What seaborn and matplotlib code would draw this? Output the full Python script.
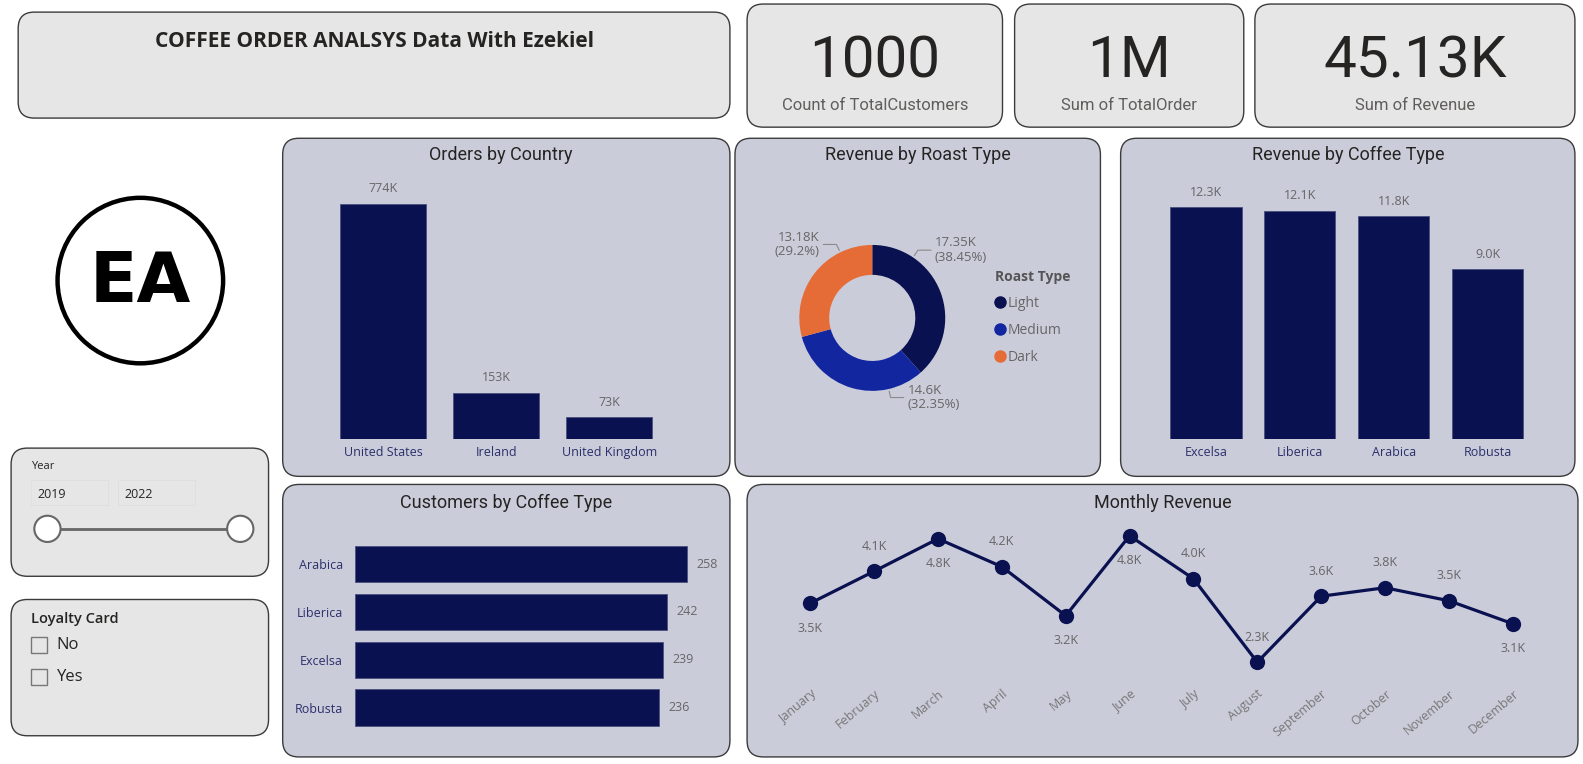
import matplotlib
matplotlib.use('Agg')
import matplotlib.pyplot as plt
from matplotlib.patches import FancyBboxPatch, Circle, Rectangle
from matplotlib.lines import Line2D
from matplotlib import font_manager
import seaborn as sns
import pandas as pd
import numpy as np

# ---- data ----
countries = ['United States', 'Ireland', 'United Kingdom']
orders_k = [774, 153, 73]

roast_types = ['Light', 'Medium', 'Dark']
roast_revenue_k = [17.35, 14.60, 13.18]
roast_share = [38.45, 32.35, 29.2]

coffee_types = ['Excelsa', 'Liberica', 'Arabica', 'Robusta']
coffee_revenue_k = [12.3, 12.1, 11.8, 9.0]

customer_types = ['Arabica', 'Liberica', 'Excelsa', 'Robusta']
customers = [258, 242, 239, 236]

months = ['January', 'February', 'March', 'April', 'May', 'June', 'July',
          'August', 'September', 'October', 'November', 'December']
monthly_revenue_k = [3.48, 4.12, 4.77, 4.21, 3.23, 4.83, 3.97, 2.30, 3.62, 3.79, 3.53, 3.07]

kpi_values = ['1000', '1M', '45.13K']
kpi_labels = ['Count of TotalCustomers', 'Sum of TotalOrder', 'Sum of Revenue']
years = ['2019', '2022']
loyalty_options = ['No', 'Yes']

# ---- style ----
NAVY = '#0A1150'
MEDIUM = '#1226A0'
DARK = '#E66C37'
PANEL = '#CBCCDA'
CARD = '#E6E6E6'
TITLE_C = '#252423'
LABEL_C = '#666666'
CAT_C = '#2B2F6A'

sns.set_theme(style='white')
fonts = {f.name for f in font_manager.fontManager.ttflist}
NARROW = 'Liberation Sans Narrow' if 'Liberation Sans Narrow' in fonts else 'Roboto'
plt.rcParams['font.family'] = ['Open Sans', 'DejaVu Sans']

W, H = 1568, 757
fig = plt.figure(figsize=(15.83, 7.64), dpi=100)
fig.patch.set_facecolor('white')

page = fig.add_axes([0, 0, 1, 1])
page.set_xlim(0, W)
page.set_ylim(H, 0)
page.axis('off')


def card(x0, y0, x1, y1, face):
    page.add_patch(FancyBboxPatch((x0, y0), x1 - x0, y1 - y0,
                                  boxstyle='round,pad=0,rounding_size=16',
                                  fc=face, ec='#3b3b3b', lw=1.0))


def panel_axes(x0, y0, x1, y1):
    ax = fig.add_axes([x0 / W, 1 - y1 / H, (x1 - x0) / W, (y1 - y0) / H])
    ax.patch.set_alpha(0)
    return ax


def panel_title(text, cx, cy):
    page.text(cx, cy, text, ha='center', va='center', fontsize=13,
              color=TITLE_C, family='Roboto')


def clean(ax):
    for s in ax.spines.values():
        s.set_visible(False)
    ax.set_xlabel('')
    ax.set_ylabel('')
    ax.tick_params(length=0)


# ---- cards and panels ----
card(18, 12, 723, 117, CARD)
kpi_boxes = [(740, 4, 993, 126), (1005, 4, 1232, 126), (1243, 4, 1560, 126)]
for b in kpi_boxes:
    card(*b, CARD)
card(280, 137, 723, 472, PANEL)
card(728, 137, 1090, 472, PANEL)
card(1110, 137, 1560, 472, PANEL)
card(280, 480, 723, 750, PANEL)
card(740, 480, 1563, 750, PANEL)
card(11, 444, 266, 571, CARD)
card(11, 594, 266, 729, CARD)

page.text(371, 41, 'COFFEE ORDER ANALSYS Data With Ezekiel', ha='center', va='center',
          fontsize=15, fontweight='bold', color=TITLE_C)

for (x0, y0, x1, y1), val, lab in zip(kpi_boxes, kpi_values, kpi_labels):
    cx = (x0 + x1) / 2
    page.text(cx, 61, val, ha='center', va='center', fontsize=42, color=TITLE_C, family=NARROW)
    page.text(cx, 105, lab, ha='center', va='center', fontsize=12, color='#605E5C',
              family='Roboto')

# logo
page.add_patch(Circle((139, 278), 82, fc='white', ec='black', lw=3.2))
page.text(139, 280, 'EA', ha='center', va='center', fontsize=50, fontweight='heavy',
          color='black', family='DejaVu Sans')

# year slicer
page.text(31, 462, 'Year', ha='left', va='center', fontsize=8, color=TITLE_C)
for i, yr in enumerate(years):
    bx = 31 + i * 86
    page.add_patch(Rectangle((bx, 476), 76, 24, fc='none', ec='#dedede', lw=0.6))
    page.text(bx + 6, 490, yr, ha='left', va='center', fontsize=9, color=TITLE_C)
page.plot([47, 238], [524, 524], color='#666666', lw=2, solid_capstyle='butt', zorder=3)
for hx in (47, 238):
    page.add_patch(Circle((hx, 524), 13, fc='white', ec='#666666', lw=1.5, zorder=4))

# loyalty slicer
page.text(31, 613, 'Loyalty Card', ha='left', va='center', fontsize=10.5, color=TITLE_C,
          fontweight='semibold')
for i, opt in enumerate(loyalty_options):
    yy = 639 + i * 32
    page.add_patch(Rectangle((31, yy - 8), 16, 16, fc='none', ec='#777777', lw=1))
    page.text(56, yy, opt, ha='left', va='center', fontsize=12, color=TITLE_C)

# ---- Orders by Country ----
panel_title('Orders by Country', 496, 154)
ax = panel_axes(323.5, 170, 659.5, 435)
df_orders = pd.DataFrame({'country': countries, 'orders': orders_k})
sns.barplot(data=df_orders, x='country', y='orders', color=NAVY, saturation=1,
            width=0.76, errorbar=None, edgecolor='#4a4f80', linewidth=0.6, ax=ax)
ax.set_xlim(-0.5, 2.5)
ax.set_ylim(0, 880)
ax.bar_label(ax.containers[0], labels=[f'{v}K' for v in orders_k], padding=6,
             fontsize=9, color=LABEL_C)
clean(ax)
ax.set_yticks([])
ax.tick_params(axis='x', labelsize=9, labelcolor=CAT_C, pad=5)

# ---- Revenue by Roast Type ----
panel_title('Revenue by Roast Type', 909, 154)
r_px = 72.3
cx, cy = 864, 315
span = 1.6 * r_px
ax = panel_axes(cx - span, cy - span, cx + span, cy + span)
wedges, _ = ax.pie(roast_revenue_k, colors=[NAVY, MEDIUM, DARK], startangle=90,
                   counterclock=False, wedgeprops=dict(width=0.41, edgecolor='none'))
ax.set_xlim(-1.6, 1.6)
ax.set_ylim(-1.6, 1.6)
ax.set_aspect('equal')
ax.axis('off')
leader_angles = [56, -77, 116]
for ang, val, pct in zip(leader_angles, roast_revenue_k, roast_share):
    a = np.deg2rad(ang)
    p0 = (1.03 * np.cos(a), 1.03 * np.sin(a))
    p1 = (1.12 * np.cos(a), 1.12 * np.sin(a))
    side = 1 if np.cos(a) >= 0 else -1
    p2 = (p1[0] + side * 0.18, p1[1])
    ax.plot([p0[0], p1[0], p2[0]], [p0[1], p1[1], p2[1]], color='#8a8a8a', lw=0.8,
            clip_on=False)
    txt = f'{val:g}K\n({pct:g}%)'
    ax.text(p2[0] + side * 0.05, p1[1], txt, ha='left' if side > 0 else 'right',
            va='center', fontsize=9.5, color=LABEL_C, linespacing=1.15)
handles = [Line2D([], [], marker='o', ls='none', markersize=8, color=c)
           for c in (NAVY, MEDIUM, DARK)]
leg = ax.legend(handles, roast_types, title='Roast Type', loc='upper left',
                bbox_to_anchor=(986 / W, 1 - 268 / H), bbox_transform=fig.transFigure,
                frameon=False, fontsize=10, handlelength=0.7, handletextpad=0.15,
                labelspacing=0.85, borderaxespad=0, borderpad=0, alignment='left')
leg.get_title().set_fontweight('bold')
leg.get_title().set_color('#555555')
leg.get_title().set_fontsize(10)
for t in leg.get_texts():
    t.set_color(LABEL_C)

# ---- Revenue by Coffee Type ----
panel_title('Revenue by Coffee Type', 1335, 154)
ax = panel_axes(1148, 170, 1520, 435)
df_coffee = pd.DataFrame({'coffee': coffee_types, 'revenue': coffee_revenue_k})
sns.barplot(data=df_coffee, x='coffee', y='revenue', color=NAVY, saturation=1,
            width=0.76, errorbar=None, edgecolor='#4a4f80', linewidth=0.6, ax=ax)
ax.set_xlim(-0.5, 3.5)
ax.set_ylim(0, 14.17)
ax.bar_label(ax.containers[0], labels=[f'{v:.1f}K' for v in coffee_revenue_k], padding=6,
             fontsize=9, color=LABEL_C)
clean(ax)
ax.set_yticks([])
ax.tick_params(axis='x', labelsize=9, labelcolor=CAT_C, pad=5)

# ---- Customers by Coffee Type ----
panel_title('Customers by Coffee Type', 501, 498)
ax = panel_axes(352, 535.3, 710, 724.7)
df_cust = pd.DataFrame({'coffee': customer_types, 'customers': customers})
sns.barplot(data=df_cust, x='customers', y='coffee', orient='h', color=NAVY, saturation=1,
            width=0.76, errorbar=None, edgecolor='#4a4f80', linewidth=0.6, ax=ax)
ax.set_xlim(0, 281)
ax.set_ylim(3.5, -0.5)
ax.bar_label(ax.containers[0], padding=7, fontsize=9, color=LABEL_C)
clean(ax)
ax.set_xticks([])
ax.tick_params(axis='y', labelsize=9, labelcolor=CAT_C, pad=9)

# ---- Monthly Revenue ----
panel_title('Monthly Revenue', 1152, 498)
ax = panel_axes(771, 515, 1530, 670)
df_month = pd.DataFrame({'month': months, 'revenue': monthly_revenue_k})
sns.lineplot(data=df_month, x='month', y='revenue', sort=False, color=NAVY, lw=2.3,
             marker='o', markersize=11, markeredgewidth=0, ax=ax)
ax.set_xlim(-0.5, 11.5)
ax.set_ylim(2.02, 5.15)
label_side = [-1, 1, -1, 1, -1, -1, 1, 1, 1, 1, 1, -1]
for i, (v, s) in enumerate(zip(monthly_revenue_k, label_side)):
    ax.annotate(f'{v:.1f}K', (i, v), xytext=(0, 18 * s), textcoords='offset points',
                ha='center', va='center', fontsize=9, color=LABEL_C)
clean(ax)
ax.set_yticks([])
ax.set_xticks(range(len(months)))
ax.set_xticklabels(months, rotation=40, ha='right', rotation_mode='anchor',
                   fontsize=9, color='#777777')
ax.tick_params(axis='x', pad=8)

fig.savefig('out.png', dpi=100, facecolor='white')
